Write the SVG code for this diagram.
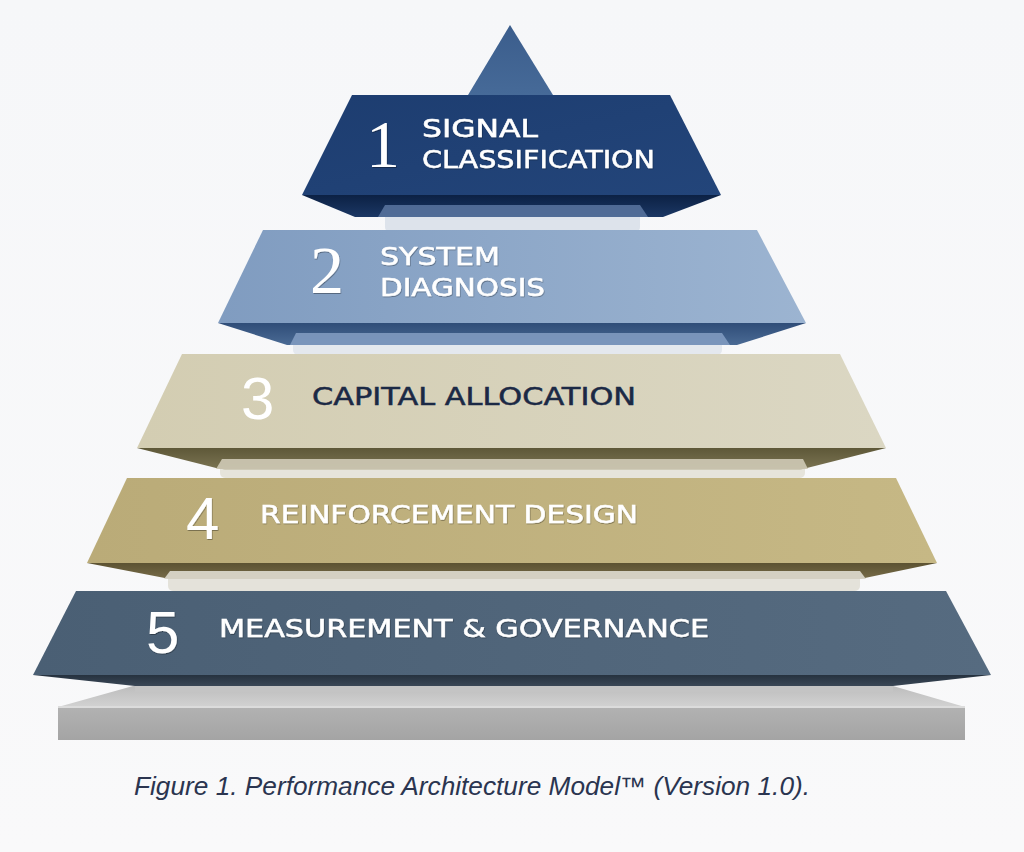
<svg xmlns="http://www.w3.org/2000/svg" width="1024" height="852" viewBox="0 0 1024 852">
<defs>
<linearGradient id="bg" x1="0" y1="0" x2="0" y2="1"><stop offset="0" stop-color="#f6f7f9"/><stop offset="1" stop-color="#f9f9fa"/></linearGradient>
<linearGradient id="g1" x1="0" y1="0" x2="1" y2="1"><stop offset="0" stop-color="#1d3d70"/><stop offset="1" stop-color="#23457a"/></linearGradient>
<linearGradient id="g1t" x1="0" y1="0" x2="0" y2="1"><stop offset="0" stop-color="#3b5d8c"/><stop offset="1" stop-color="#466a98"/></linearGradient>
<linearGradient id="g2" x1="0" y1="0" x2="1" y2="0"><stop offset="0" stop-color="#809cc0"/><stop offset="1" stop-color="#9cb4d1"/></linearGradient>
<linearGradient id="g3" x1="0" y1="0" x2="1" y2="0"><stop offset="0" stop-color="#d3cdb2"/><stop offset="1" stop-color="#dbd7c3"/></linearGradient>
<linearGradient id="g4" x1="0" y1="0" x2="1" y2="0"><stop offset="0" stop-color="#baab78"/><stop offset="1" stop-color="#c6b885"/></linearGradient>
<linearGradient id="g5" x1="0" y1="0" x2="1" y2="0"><stop offset="0" stop-color="#4a5f74"/><stop offset="1" stop-color="#566b80"/></linearGradient>
<linearGradient id="u1" x1="0" y1="0" x2="0" y2="1"><stop offset="0" stop-color="#0c2144"/><stop offset="1" stop-color="#1b3764"/></linearGradient>
<linearGradient id="u2" x1="0" y1="0" x2="0" y2="1"><stop offset="0" stop-color="#2f4d78"/><stop offset="1" stop-color="#4a6a94"/></linearGradient>
<linearGradient id="u3" x1="0" y1="0" x2="0" y2="1"><stop offset="0" stop-color="#5e5838"/><stop offset="1" stop-color="#7a7352"/></linearGradient>
<linearGradient id="u4" x1="0" y1="0" x2="0" y2="1"><stop offset="0" stop-color="#5c5232"/><stop offset="1" stop-color="#776c49"/></linearGradient>
<linearGradient id="u5" x1="0" y1="0" x2="0" y2="1"><stop offset="0" stop-color="#26323f"/><stop offset="1" stop-color="#3a4756"/></linearGradient>
<linearGradient id="baseTop" x1="0" y1="0" x2="0" y2="1"><stop offset="0" stop-color="#bdbdbd"/><stop offset="1" stop-color="#d2d2d2"/></linearGradient>
<linearGradient id="baseFront" x1="0" y1="0" x2="0" y2="1"><stop offset="0" stop-color="#b2b2b2"/><stop offset="1" stop-color="#a4a4a4"/></linearGradient>
<filter id="ts" x="-10%" y="-20%" width="120%" height="150%"><feDropShadow dx="0.6" dy="1" stdDeviation="0.6" flood-color="#000" flood-opacity="0.35"/></filter>
<style>
.num{font-family:"Liberation Serif","DejaVu Serif",serif;font-size:68px;fill:#ffffff}
.numS{font-family:"Liberation Sans","DejaVu Sans",sans-serif;font-size:60px;fill:#ffffff}
.lbl{font-family:"DejaVu Sans","Liberation Sans",sans-serif;font-size:24px;fill:#ffffff;stroke:#ffffff;stroke-width:0.5}
.dark{fill:#1b2945;stroke:#1b2945}
.cap{font-family:"Liberation Sans","DejaVu Sans",sans-serif;font-size:25px;font-style:italic;fill:#2b3550}
</style>
</defs>
<rect width="1024" height="852" fill="url(#bg)"/>

<g id="base">
<polygon points="133,686 893,686 965,707 58,707" fill="url(#baseTop)"/>
<rect x="58" y="707" width="907" height="33" fill="url(#baseFront)"/>
<rect x="58" y="706" width="907" height="2" fill="#dcdcdc"/>
<rect x="135" y="683" width="758" height="9" fill="#c4c4c4"/>
</g>

<g id="posts">
<rect x="385" y="205" width="255" height="26" rx="4" fill="#dde3eb"/>
<rect x="385" y="205" width="255" height="12" rx="4" fill="#6d88ad"/>
<rect x="293" y="333" width="429" height="22" rx="5" fill="#e4e8ee"/>
<rect x="293" y="333" width="429" height="12" rx="5" fill="#a6bad2"/>
<rect x="220" y="458" width="585" height="20" rx="5" fill="#e6e4db"/>
<rect x="220" y="458" width="585" height="12" rx="5" fill="#cfcbb8"/>
<rect x="168" y="570" width="692" height="21" rx="5" fill="#e4e2da"/>
<rect x="168" y="570" width="692" height="9" rx="4" fill="#d3cfbf"/>
</g>

<g id="tier1">
<polygon points="510,25 468,95 553,95" fill="url(#g1t)"/>
<polygon points="302,195 721,195 663,217 355,217" fill="url(#u1)"/>
<polygon points="385,205 640,205 648,217 378,217" fill="#5a76a0" opacity="0.85"/>
<polygon points="352,95 670,95 721,195 302,195" fill="url(#g1)"/>
<text class="num" x="366" y="167" filter="url(#ts)">1</text>
<text class="lbl" x="422" y="137" textLength="116" lengthAdjust="spacingAndGlyphs" filter="url(#ts)">SIGNAL</text>
<text class="lbl" x="422" y="168" textLength="233" lengthAdjust="spacingAndGlyphs" filter="url(#ts)">CLASSIFICATION</text>
</g>

<g id="tier2">
<polygon points="218,323 806,323 737,345 287,345" fill="url(#u2)"/>
<polygon points="296,333 722,333 730,345 290,345" fill="#7f9ac0" opacity="0.9"/>
<polygon points="263,230 757,230 806,323 218,323" fill="url(#g2)"/>
<text class="num" x="310" y="293" filter="url(#ts)">2</text>
<text class="lbl" x="380" y="265" textLength="120" lengthAdjust="spacingAndGlyphs" filter="url(#ts)">SYSTEM</text>
<text class="lbl" x="380" y="296" textLength="165" lengthAdjust="spacingAndGlyphs" filter="url(#ts)">DIAGNOSIS</text>
</g>

<g id="tier3">
<polygon points="137,448 886,448 803,469 220,469" fill="url(#u3)"/>
<polygon points="222,459 803,459 808,469 216,469" fill="#cfcab6" opacity="0.9"/>
<polygon points="182,354 840,354 886,448 137,448" fill="url(#g3)"/>
<text class="numS" x="241" y="419">3</text>
<text class="lbl dark" x="312" y="405" textLength="324" lengthAdjust="spacingAndGlyphs">CAPITAL ALLOCATION</text>
</g>

<g id="tier4">
<polygon points="87,563 937,563 860,579 170,579" fill="url(#u4)"/>
<polygon points="170,571 860,571 866,579 164,579" fill="#d9d6c9" opacity="0.95"/>
<polygon points="127,478 896,478 937,563 87,563" fill="url(#g4)"/>
<text class="numS" x="186" y="539" filter="url(#ts)">4</text>
<text class="lbl" x="260" y="523" textLength="378" lengthAdjust="spacingAndGlyphs" filter="url(#ts)">REINFORCEMENT DESIGN</text>
</g>

<g id="tier5">
<polygon points="33,675 991,675 893,686 135,686" fill="url(#u5)"/>
<polygon points="76,591 946,591 991,675 33,675" fill="url(#g5)"/>
<text class="numS" x="146" y="653" filter="url(#ts)">5</text>
<text class="lbl" x="219" y="637" textLength="490" lengthAdjust="spacingAndGlyphs" filter="url(#ts)">MEASUREMENT &amp; GOVERNANCE</text>
</g>

<g id="caption">
<text class="cap" x="134" y="795" textLength="676" lengthAdjust="spacingAndGlyphs">Figure 1. Performance Architecture Model™ (Version 1.0).</text>
</g>
</svg>
